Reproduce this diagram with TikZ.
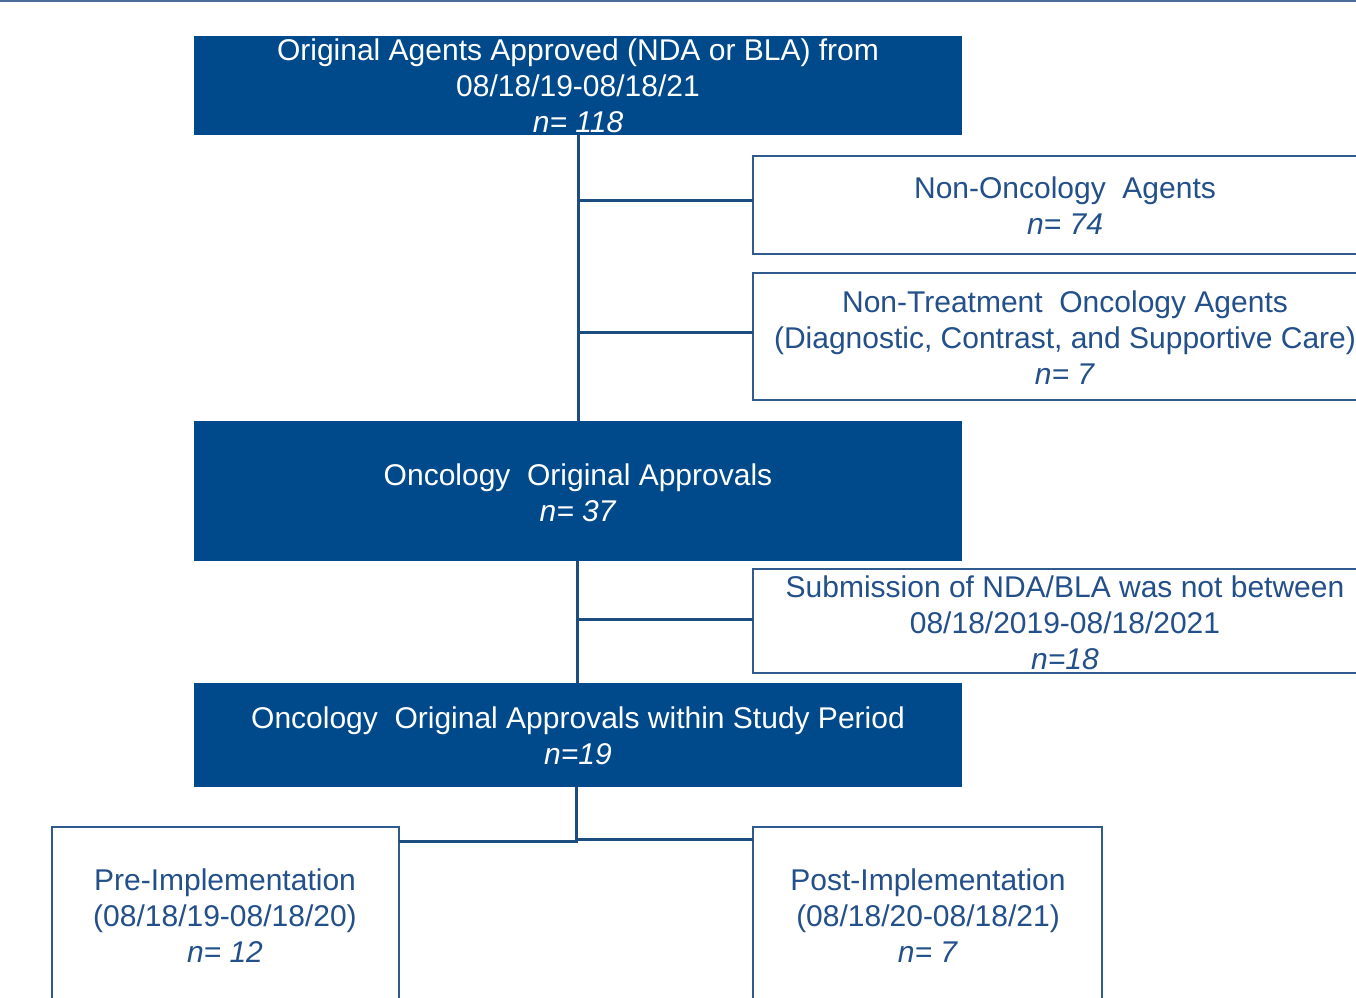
\documentclass[tikz,border=0pt]{standalone}
\usepackage{fontspec}
\setmainfont{Liberation Sans}
\definecolor{navy}{HTML}{004A8C}
\definecolor{linec}{HTML}{1C4D80}
\definecolor{bordc}{HTML}{2F5C8C}
\definecolor{txtc}{HTML}{23508A}
\definecolor{topc}{HTML}{4E6E99}
\tikzset{
  darkbox/.style={fill=navy, draw=none},
  whitebox/.style={fill=white, draw=bordc, line width=1.6pt},
  txt/.style={align=center, inner sep=0pt, font=\fontsize{30}{36}\selectfont},
  wtxt/.style={txt, text=white},
  btxt/.style={txt, text=txtc},
  conn/.style={draw=linec, line width=3pt}
}
\begin{document}
\begin{tikzpicture}[x=1pt,y=-1pt]
\useasboundingbox (0,0) rectangle (1356,997);
\clip (0,0) rectangle (1356,997);
\fill[topc] (0,0) rectangle (1356,2);
% boxes
\draw[darkbox] (194,36) rectangle (962,135) node[midway, inner sep=0] (b1) {};
\draw[whitebox] (753,156) rectangle (1377,254) node[midway, inner sep=0] (b2) {};
\draw[whitebox] (753,273) rectangle (1377,400) node[midway, inner sep=0] (b3) {};
\draw[darkbox] (194,421) rectangle (962,561) node[midway, inner sep=0] (b4) {};
\draw[whitebox] (753,569) rectangle (1377,673) node[midway, inner sep=0] (b5) {};
\draw[darkbox] (194,683) rectangle (962,787) node[midway, inner sep=0] (b6) {};
\draw[whitebox] (52,827) rectangle (399,1005) node[midway, inner sep=0] (b7) {};
\draw[whitebox] (753,827) rectangle (1102,1005) node[midway, inner sep=0] (b8) {};
% coordinates for connectors
\coordinate (b1s) at (578,135);
\coordinate (b4n) at (578,421);
\coordinate (j2) at (578,200);
\coordinate (b2w) at (753,200);
\coordinate (j3) at (578,332);
\coordinate (b3w) at (753,332);
\coordinate (b4s) at (577,561);
\coordinate (b6n) at (577,683);
\coordinate (j5) at (577,619);
\coordinate (b5w) at (753,619);
\coordinate (b6s) at (576,787);
\coordinate (j7) at (576,841);
\coordinate (b7e) at (399,841);
\coordinate (j8) at (576,839);
\coordinate (b8w) at (753,839);
% connectors
\draw[conn] (b1s) -- (b4n);
\draw[conn] (j2) -- (b2w);
\draw[conn] (j3) -- (b3w);
\draw[conn] (b4s) -- (b6n);
\draw[conn] (j5) -- (b5w);
\draw[conn] (b6s) -- (j7) -- (b7e);
\draw[conn] (j8) -- (b8w);
% texts
\node[wtxt] (t1) at (578,85.5) {Original Agents Approved (NDA or BLA) from\\08/18/19-08/18/21\\\textit{n= 118}};
\node[btxt] (t2) at (1065,205.5) {Non-Oncology\ \ Agents\\\textit{n= 74}};
\node[btxt] (t3) at (1065,337.5) {Non-Treatment\ \ Oncology Agents\\(Diagnostic, Contrast, and Supportive Care)\\\textit{n= 7}};
\node[wtxt] (t4) at (578,492.5) {Oncology\ \ Original Approvals\\\textit{n= 37}};
\node[btxt] (t5) at (1065,622.5) {Submission of NDA/BLA was not between\\08/18/2019-08/18/2021\\\textit{n=18}};
\node[wtxt] (t6) at (578,735.5) {Oncology\ \ Original Approvals within Study Period\\\textit{n=19}};
\node[btxt] (t7) at (225,916) {Pre-Implementation\\(08/18/19-08/18/20)\\\textit{n= 12}};
\node[btxt] (t8) at (928,916) {Post-Implementation\\(08/18/20-08/18/21)\\\textit{n= 7}};
\end{tikzpicture}
\end{document}
